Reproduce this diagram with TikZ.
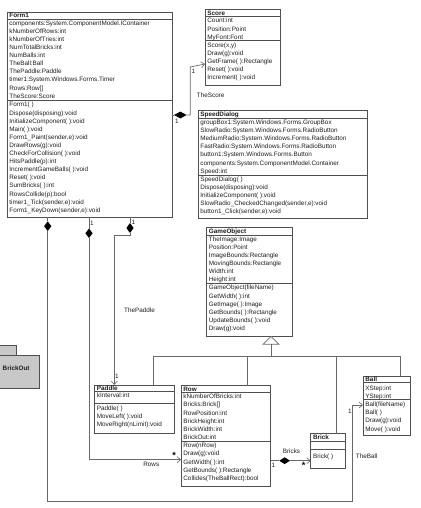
\documentclass[tikz,border=0pt]{standalone}
\usepackage{fontspec}
\setmainfont{Liberation Sans}
\usetikzlibrary{arrows.meta}
\definecolor{boxcol}{RGB}{80,80,80}
\definecolor{conncol}{RGB}{105,105,105}
\definecolor{txtcol}{RGB}{30,30,30}
\definecolor{pkgfill}{RGB}{200,200,200}
\tikzset{
 classbox/.style={draw=boxcol, line width=0.8pt, fill=white, anchor=north west, inner sep=0pt, outer sep=0pt},
 sepline/.style={draw=boxcol, line width=0.6pt},
 txt/.style={anchor=base west, inner sep=0pt, font=\fontsize{6.35}{7}\selectfont, text=txtcol},
 titletxt/.style={anchor=base west, inner sep=0pt, font=\fontsize{6.35}{7}\selectfont\bfseries, text=txtcol},
 conn/.style={draw=conncol, line width=0.7pt},
 nav/.style={conn, -{Straight Barb[length=3.5pt,width=6pt,line width=0.6pt]}},
 lbl/.style={anchor=center, inner sep=0pt, font=\fontsize{6.35}{7}\selectfont, text=txtcol},
 star/.style={anchor=center, inner sep=0pt, font=\fontsize{9}{9}\selectfont\bfseries, text=black},
 pkgbox/.style={draw=boxcol, line width=0.8pt, fill=pkgfill, anchor=north west, inner sep=0pt, outer sep=0pt},
}
% #1 name, #2 x1, #3 y1, #4 x2, #5 y2, #6 title line y, #7 separator y, #8 title
\newcommand{\umlbox}[8]{%
 \node[classbox, minimum width={#4pt-#2pt}, minimum height={#5pt-#3pt}] (#1) at (#2,#3) {};
 \draw[sepline] (#2,#6) -- (#4,#6);
 \draw[sepline] (#2,#7) -- (#4,#7);
 \node[titletxt] (#1-t) at (#2+2.2,{(#3+#6)/2+2.2}) {#8};
}
% #1 prefix, #2 x, #3 first centre y, #4 list
\newcommand{\umllines}[4]{%
 \foreach \t [count=\i] in {#4} {\node[txt] (#1-\i) at (#2+2.2,{#3+(\i-1)*8.1+2.2}) {\t};}
}
\begin{document}
\begin{tikzpicture}[x=1pt,y=-1pt]
\useasboundingbox (0,0) rectangle (420,508);
\fill[white] (0,0) rectangle (420,508);

% ---------- classes ----------
\umlbox{form1}{7}{12}{172}{217.3}{19}{100.3}{Form1}
\umllines{form1a}{7}{23.1}{components:System.ComponentModel.IContainer,kNumberOfRows:int,kNumberOfTries:int,NumTotalBricks:int,NumBalls:int,TheBall:Ball,ThePaddle:Paddle,timer1:System.Windows.Forms.Timer,Rows:Row[],TheScore:Score}
\umllines{form1m}{7}{104.7}{Form1( ),Dispose(disposing):void,InitializeComponent( ):void,Main( ):void,{Form1\_Paint(sender,e):void},DrawRows(g):void,CheckForCollision( ):void,HitsPaddle(p):int,IncrementGameBalls( ):void,Reset( ):void,SumBricks( ):int,RowsCollide(p):bool,{timer1\_Tick(sender,e):void},{Form1\_KeyDown(sender,e):void}}

\umlbox{score}{205}{9}{280}{85.3}{16.7}{40.8}{Score}
\umllines{scorea}{205}{20.8}{Count:int,Position:Point,MyFont:Font}
\umllines{scorem}{205}{45}{{Score(x,y)},Draw(g):void,GetFrame( ):Rectangle,Reset( ):void,Increment( ):void}

\umlbox{speed}{198}{110}{367}{218.3}{118.3}{175}{SpeedDialog}
\umllines{speeda}{198}{122.3}{groupBox1:System.Windows.Forms.GroupBox,SlowRadio:System.Windows.Forms.RadioButton,MediumRadio:System.Windows.Forms.RadioButton,FastRadio:System.Windows.Forms.RadioButton,button1:System.Windows.Forms.Button,components:System.ComponentModel.Container,Speed:int}
\umllines{speedm}{198}{179.2}{SpeedDialog( ),Dispose(disposing):void,InitializeComponent( ):void,{SlowRadio\_CheckedChanged(sender,e):void},{button1\_Click(sender,e):void}}

\umlbox{gameobj}{206.5}{227.3}{292.5}{336.3}{235}{283.5}{GameObject}
\umllines{gameobja}{206.5}{239.1}{TheImage:Image,Position:Point,ImageBounds:Rectangle,MovingBounds:Rectangle,Width:int,Height:int}
\umllines{gameobjm}{206.5}{287.7}{GameObject(fileName),GetWidth( ):int,GetImage( ):Image,GetBounds( ):Rectangle,UpdateBounds( ):void,Draw(g):void}

\umlbox{ball}{363}{376}{410}{435.7}{382.5}{399.3}{Ball}
\umllines{balla}{363}{388.5}{XStep:int,YStep:int}
\umllines{ballm}{363}{404.5}{Ball(fileName),Ball( ),Draw(g):void,Move( ):void}

\umlbox{brick}{310.7}{433.5}{345}{468.3}{441}{449.7}{Brick}
\umllines{brickm}{310.7}{456}{Brick( )}

\umlbox{row}{181}{385.7}{270.5}{486.7}{392.3}{441.2}{Row}
\umllines{rowa}{181}{396.6}{kNumberOfBricks:int,Bricks:Brick[],RowPosition:int,BrickHeight:int,BrickWidth:int,BrickOut:int}
\umllines{rowm}{181}{445.6}{Row(nRow),Draw(g):void,GetWidth( ):int,GetBounds( ):Rectangle,Collides(TheBallRect):bool}

\umlbox{paddle}{94.5}{385}{174}{433.3}{391}{403.3}{Paddle}
\umllines{paddlea}{94.5}{395.3}{kInterval:int}
\umllines{paddlem}{94.5}{408.3}{Paddle( ),MoveLeft( ):void,MoveRight(nLimit):void}

% ---------- package ----------
\node[pkgbox, minimum width=19pt, minimum height=9.3pt] (pkgtab) at (-3,345.7) {};
\node[pkgbox, minimum width=42.3pt, minimum height=33.3pt] (pkg) at (-3,355) {};
\draw[boxcol, line width=1.1pt] ([xshift=0.5pt,yshift=-0.5pt]pkg.north east) -- ([xshift=0.5pt,yshift=-0.5pt]pkg.south east) -- ([xshift=3pt,yshift=-0.5pt]pkg.south west);
\node[titletxt] (pkglabel) at (2.5,370.5) {BrickOut};

% ---------- coordinates ----------
\coordinate (xb) at (47.7,0);
\coordinate (xr) at (89,0);
\coordinate (xp) at (130,0);
\coordinate (xpp) at (114.3,0);
\coordinate (ys) at (0,115);
\coordinate (ysa) at (0,64);
\coordinate (yrows) at (0,459.7);
\coordinate (yball) at (0,405);
\coordinate (ybr) at (0,460.7);
\coordinate (xtri) at (271,0);
\coordinate (g1) at (153,0);
\coordinate (g2) at (247.3,0);
\coordinate (g3) at (336.7,0);
\coordinate (g4) at (400.7,0);

% ---------- Form1 -> Score ----------
\draw[conn] (form1.east |- ys) -- (174,115);
\fill[black] (174,115) -- (180.3,111.6) -- (186.6,115) -- (180.3,118.4) -- cycle;
\draw[nav] (186.6,115) -- (190.3,115) -- (190.3,67) -- (score.west |- ysa);
\node[lbl] (ms1) at (177,121) {1};
\node[lbl] (ms2) at (193.5,71) {1};
\node[txt] (lscore) at (196.7,97.9) {TheScore};

% ---------- Form1 -> Paddle ----------
\draw[conn] (form1.south -| xp) -- (130,223);
\fill[black] (130,223) -- (133.6,228) -- (130,233) -- (126.4,228) -- cycle;
\draw[nav] (130,233) -- (130,235) -- (114.3,235) -- (paddle.north -| xpp);
\node[lbl] (mp1) at (133.3,222) {1};
\node[lbl] (mp2) at (117,376) {1};
\node[txt] (lpaddle) at (124,312.9) {ThePaddle};

% ---------- Form1 -> Row ----------
\draw[conn] (form1.south -| xr) -- (89,228.5);
\fill[black] (89,228.5) -- (92.6,233.3) -- (89,238) -- (85.4,233.3) -- cycle;
\draw[nav] (89,238) -- (89,459.7) -- (row.west |- yrows);
\node[lbl] (mr1) at (92,223.5) {1};
\node[star] (mr2) at (174,455.5) {*};
\node[lbl] (lrows) at (151.3,464.3) {Rows};

% ---------- Form1 -> Ball ----------
\draw[conn] (form1.south -| xb) -- (47.7,221.3);
\fill[black] (47.7,221.3) -- (51.3,226.2) -- (47.7,231) -- (44.1,226.2) -- cycle;
\draw[nav] (47.7,231) -- (47.7,501.7) -- (352.3,501.7) -- (352.3,405) -- (ball.west |- yball);
\node[lbl] (mb1) at (350,411) {1};
\node[txt] (lball) at (355.7,458.8) {TheBall};

% ---------- Row -> Brick ----------
\draw[conn] (row.east |- ybr) -- (279.3,460.7);
\fill[black] (279.3,460.7) -- (284.6,457.3) -- (290,460.7) -- (284.6,464.1) -- cycle;
\draw[nav] (290,460.7) -- (brick.west |- ybr);
\node[lbl] (mk1) at (273.5,465.8) {1};
\node[lbl] (lbricks) at (291.5,451.7) {Bricks};
\node[star] (mk2) at (303.5,465) {*};

% ---------- generalisation ----------
\draw[conn, fill=white] (gameobj.south -| xtri) -- (279,344.3) -- (263,344.3) -- cycle;
\draw[conn] (271,344.3) -- (271,356.7);
\draw[conn] (153,356.7) -- (400.7,356.7);
\draw[conn] (153,356.7) -- (paddle.north -| g1);
\draw[conn] (247.3,356.7) -- (row.north -| g2);
\draw[conn] (336.7,356.7) -- (brick.north -| g3);
\draw[conn] (400.7,356.7) -- (ball.north -| g4);
\end{tikzpicture}
\end{document}
